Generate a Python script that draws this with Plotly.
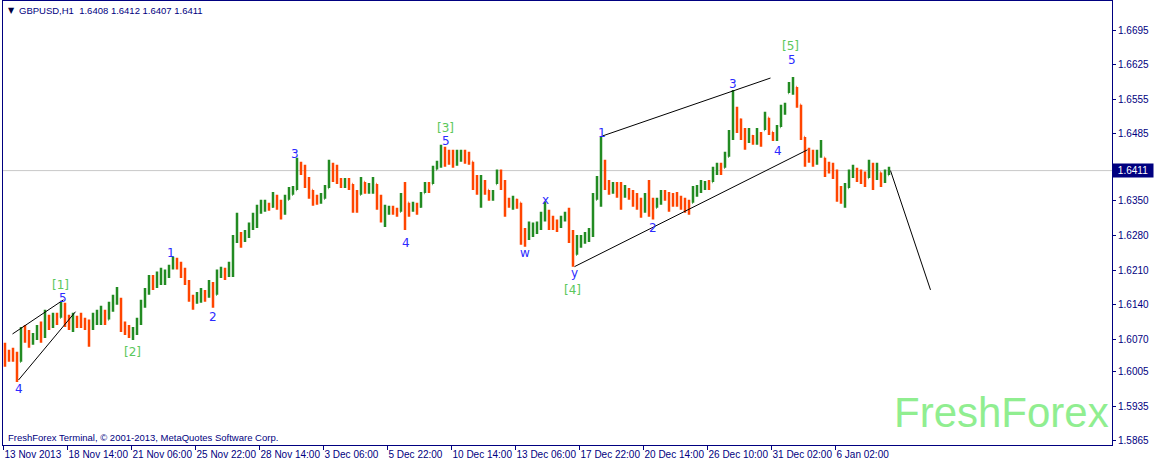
import plotly.graph_objects as go

# ---------------- data (4-hour blocks, prices in pips) ----------------
BAR_HOURS = 4
high_pips = [
    16063, 16049, 16053, 16045, 16095, 16099, 16089, 16083, 16099, 16106,
    16130, 16120, 16124, 16124, 16146, 16144, 16120, 16124, 16118, 16124,
    16114, 16110, 16124, 16130, 16138, 16130, 16146, 16160, 16176, 16154,
    16106, 16099, 16095, 16114, 16150, 16174, 16200, 16200, 16207, 16215,
    16211, 16221, 16237, 16235, 16227, 16215, 16190, 16160, 16166, 16174,
    16170, 16190, 16186, 16211, 16217, 16215, 16227, 16281, 16326, 16287,
    16291, 16306, 16326, 16342, 16352, 16352, 16346, 16368, 16362, 16352,
    16362, 16378, 16380, 16437, 16429, 16423, 16398, 16372, 16362, 16366,
    16382, 16433, 16427, 16423, 16396, 16396, 16396, 16384, 16372, 16398,
    16388, 16386, 16398, 16384, 16362, 16342, 16340, 16340, 16336, 16366,
    16388, 16346, 16348, 16346, 16368, 16388, 16388, 16421, 16431, 16463,
    16459, 16453, 16453, 16453, 16453, 16453, 16449, 16429, 16402, 16402,
    16392, 16372, 16372, 16413, 16413, 16392, 16356, 16360, 16354, 16346,
    16295, 16308, 16306, 16308, 16328, 16348, 16332, 16320, 16312, 16320,
    16328, 16336, 16291, 16281, 16281, 16287, 16295, 16366, 16400, 16479,
    16433, 16392, 16388, 16388, 16388, 16382, 16376, 16372, 16366, 16356,
    16366, 16392, 16356, 16356, 16372, 16372, 16368, 16366, 16368, 16360,
    16356, 16352, 16380, 16382, 16392, 16390, 16392, 16419, 16427, 16427,
    16449, 16493, 16574, 16540, 16516, 16497, 16497, 16483, 16497, 16489,
    16530, 16518, 16489, 16503, 16544, 16548, 16590, 16600, 16580, 16544,
    16479, 16457, 16453, 16453, 16473, 16437, 16429, 16427, 16413, 16380,
    16386, 16413, 16423, 16417, 16413, 16409, 16433, 16427, 16427, 16407,
    16413, 16419,
]
low_pips = [
    16015, 16025, 16025, 15984, 16025, 16063, 16053, 16059, 16069, 16063,
    16073, 16089, 16093, 16099, 16114, 16095, 16089, 16085, 16093, 16093,
    16089, 16055, 16089, 16099, 16099, 16099, 16110, 16126, 16140, 16085,
    16079, 16073, 16069, 16079, 16099, 16134, 16160, 16170, 16174, 16180,
    16180, 16194, 16211, 16211, 16194, 16180, 16146, 16130, 16142, 16144,
    16146, 16154, 16134, 16160, 16194, 16190, 16196, 16196, 16265, 16255,
    16267, 16275, 16291, 16295, 16324, 16328, 16330, 16336, 16332, 16312,
    16322, 16352, 16362, 16372, 16402, 16376, 16354, 16340, 16342, 16344,
    16354, 16376, 16388, 16384, 16376, 16376, 16372, 16326, 16326, 16362,
    16364, 16364, 16364, 16332, 16306, 16297, 16322, 16322, 16318, 16328,
    16291, 16318, 16328, 16322, 16336, 16366, 16366, 16384, 16413, 16417,
    16419, 16423, 16417, 16421, 16429, 16425, 16423, 16372, 16362, 16336,
    16362, 16350, 16350, 16384, 16372, 16318, 16336, 16332, 16334, 16261,
    16257, 16271, 16277, 16283, 16291, 16308, 16291, 16291, 16287, 16295,
    16308, 16265, 16217, 16241, 16255, 16263, 16267, 16277, 16352, 16338,
    16372, 16362, 16364, 16356, 16332, 16356, 16352, 16338, 16332, 16316,
    16326, 16318, 16312, 16336, 16342, 16350, 16328, 16338, 16338, 16332,
    16326, 16322, 16346, 16358, 16366, 16372, 16372, 16388, 16402, 16402,
    16417, 16439, 16473, 16487, 16473, 16453, 16467, 16463, 16463, 16459,
    16493, 16483, 16471, 16471, 16499, 16524, 16568, 16564, 16538, 16473,
    16419, 16427, 16419, 16423, 16437, 16398, 16405, 16394, 16348, 16344,
    16336, 16376, 16396, 16388, 16384, 16378, 16396, 16372, 16392, 16378,
    16386, 16402,
]
close_pips = [
    16039, 16033, 16029, 16019, 16079, 16069, 16065, 16075, 16089, 16079,
    16114, 16106, 16114, 16110, 16134, 16110, 16106, 16110, 16106, 16104,
    16099, 16093, 16114, 16114, 16120, 16110, 16140, 16150, 16150, 16099,
    16093, 16083, 16085, 16106, 16140, 16166, 16190, 16186, 16190, 16194,
    16200, 16215, 16227, 16221, 16207, 16186, 16154, 16150, 16160, 16164,
    16160, 16170, 16160, 16200, 16207, 16200, 16211, 16271, 16281, 16271,
    16281, 16295, 16312, 16332, 16336, 16342, 16338, 16358, 16342, 16328,
    16342, 16362, 16372, 16423, 16417, 16392, 16372, 16354, 16352, 16354,
    16372, 16413, 16409, 16392, 16386, 16388, 16384, 16362, 16352, 16388,
    16376, 16380, 16392, 16352, 16328, 16332, 16332, 16330, 16328, 16358,
    16352, 16332, 16340, 16338, 16360, 16382, 16376, 16413, 16423, 16453,
    16443, 16437, 16433, 16441, 16443, 16439, 16433, 16392, 16376, 16382,
    16372, 16358, 16362, 16402, 16382, 16352, 16346, 16352, 16346, 16281,
    16275, 16287, 16291, 16295, 16322, 16322, 16308, 16301, 16301, 16312,
    16322, 16281, 16241, 16271, 16271, 16277, 16287, 16352, 16382, 16402,
    16388, 16376, 16380, 16372, 16362, 16372, 16362, 16352, 16346, 16342,
    16352, 16342, 16336, 16346, 16362, 16360, 16352, 16352, 16348, 16346,
    16342, 16342, 16372, 16372, 16378, 16382, 16380, 16409, 16417, 16409,
    16439, 16477, 16534, 16514, 16493, 16473, 16481, 16473, 16485, 16479,
    16518, 16493, 16481, 16497, 16534, 16540, 16578, 16584, 16550, 16493,
    16443, 16443, 16437, 16443, 16453, 16423, 16417, 16409, 16362, 16354,
    16372, 16401, 16413, 16402, 16396, 16392, 16417, 16402, 16413, 16392,
    16402, 16411,
]
first_open_pips = 16050

x_tick_labels = ["13 Nov 2013", "18 Nov 14:00", "21 Nov 06:00", "25 Nov 22:00",
                 "28 Nov 14:00", "3 Dec 06:00", "5 Dec 22:00", "10 Dec 14:00",
                 "13 Dec 06:00", "17 Dec 22:00", "20 Dec 14:00", "26 Dec 10:00",
                 "31 Dec 02:00", "6 Jan 02:00"]
x_tick_every = 64  # hourly bars between time labels
y_tick_labels = ["1.6695", "1.6625", "1.6555", "1.6485", "1.6350", "1.6280",
                 "1.6210", "1.6140", "1.6070", "1.6005", "1.5935", "1.5865"]
last_price = 1.6411
header_text = "GBPUSD,H1  1.6408 1.6412 1.6407 1.6411"

# trend / channel lines: (hour index, price)
trend_lines = [
    ([9, 60], [1.6081, 1.6150]),
    ([15, 72], [1.5988, 1.6126]),
    ([599, 767], [1.6481, 1.6598]),
    ([571, 804], [1.6217, 1.6453]),
    ([887, 927], [1.6411, 1.6170]),
]

# wave labels
wave_text = ["[1]", "5", "4", "[2]", "1", "2", "3", "4", "[3]", "5", "w", "x",
             "y", "[4]", "1", "2", "3", "4", "[5]", "5"]
wave_hour = [57, 59, 15, 129, 167, 209, 291, 402, 442, 442, 521, 542,
             571, 569, 598, 649, 729, 774, 787, 788]
wave_price = [1.6180, 1.6154, 1.5970, 1.6045, 1.6245, 1.6116, 1.6445, 1.6265,
              1.6497, 1.6471, 1.6245, 1.6352, 1.6205, 1.6170, 1.6487, 1.6295,
              1.6586, 1.6451, 1.6663, 1.6635]

# ---------------- figure ----------------
NAVY = "#000080"
UP = "#228B22"
DOWN = "#FF4500"
GREEN_LBL = "#5CC85C"
BLUE_LBL = "#2B2BFF"
FONT = "Liberation Sans, sans-serif"

highs = [v / 10000 for v in high_pips]
lows = [v / 10000 for v in low_pips]
closes = [v / 10000 for v in close_pips]
opens = []
prev = first_open_pips / 10000
for h, l, c in zip(highs, lows, closes):
    opens.append(min(max(prev, l), h))
    prev = c
xs = [BAR_HOURS * k + (BAR_HOURS - 1) / 2 for k in range(len(closes))]

fig = go.Figure()
fig.add_trace(go.Ohlc(
    x=xs, open=opens, high=highs, low=lows, close=closes,
    increasing=dict(line=dict(color=UP, width=2.5)),
    decreasing=dict(line=dict(color=DOWN, width=2.5)),
    tickwidth=0.15, hoverinfo="skip", showlegend=False,
))

# current price line
fig.add_hline(y=last_price, line=dict(color="#C8C8C8", width=1), layer="below")

for lx, ly in trend_lines:
    fig.add_trace(go.Scatter(x=lx, y=ly, mode="lines",
                             line=dict(color="black", width=1),
                             hoverinfo="skip", showlegend=False))

for t, hx, py in zip(wave_text, wave_hour, wave_price):
    col = GREEN_LBL if t.startswith("[") else BLUE_LBL
    fig.add_annotation(x=hx, y=py, text=t, showarrow=False,
                       font=dict(family="DejaVu Sans", size=12, color=col))

W, H = 1154, 463
ML, MR, MT, MB = 3, 42, 1, 18
pw = W - ML - MR
ph = H - MT - MB


def px_to_paper_x(px):
    return (px - ML) / pw


def px_to_paper_y(py):
    return 1 - (py - MT) / ph


# header
fig.add_annotation(xref="paper", yref="paper", x=px_to_paper_x(6), y=px_to_paper_y(10),
                   text="▼", showarrow=False, xanchor="left", yanchor="middle",
                   font=dict(family="DejaVu Sans", size=8, color="#000040"))
fig.add_annotation(xref="paper", yref="paper", x=px_to_paper_x(17), y=px_to_paper_y(10),
                   text=header_text, showarrow=False, xanchor="left", yanchor="middle",
                   font=dict(family=FONT, size=9.5, color=NAVY))
# copyright
fig.add_annotation(xref="paper", yref="paper", x=px_to_paper_x(6), y=px_to_paper_y(437),
                   text="FreshForex Terminal, © 2001-2013, MetaQuotes Software Corp.",
                   showarrow=False, xanchor="left", yanchor="middle",
                   font=dict(family=FONT, size=9.5, color=NAVY))
# watermark
fig.add_annotation(xref="paper", yref="paper", x=px_to_paper_x(1111), y=px_to_paper_y(412),
                   text="FreshForex", showarrow=False, xanchor="right", yanchor="middle",
                   font=dict(family="Liberation Sans", size=42, color="#90EE90"))
# current price label on axis
fig.add_annotation(xref="paper", yref="y", x=1, y=last_price, text="1.6411",
                   showarrow=False, xanchor="left", yanchor="middle", xshift=0,
                   bgcolor=NAVY, borderpad=1, width=38,
                   font=dict(family=FONT, size=10, color="white"))

fig.update_layout(
    width=W, height=H,
    margin=dict(l=ML, r=MR, t=MT, b=MB, autoexpand=False),
    paper_bgcolor="white", plot_bgcolor="white",
    showlegend=False,
    xaxis=dict(
        range=[-0.5, pw - 0.5],
        rangeslider=dict(visible=False),
        automargin=False,
        showgrid=False, zeroline=False,
        showline=True, linecolor=NAVY, linewidth=1, mirror=True,
        tickmode="array",
        tickvals=[i * x_tick_every for i in range(len(x_tick_labels))],
        ticktext=x_tick_labels,
        tickangle=0,
        ticks="outside", ticklen=4, tickcolor=NAVY,
        ticklabelposition="outside right",
        tickfont=dict(family=FONT, size=10, color=NAVY),
    ),
    yaxis=dict(
        side="right",
        range=[1.58567, 1.67536],
        automargin=False,
        showgrid=False, zeroline=False,
        showline=True, linecolor=NAVY, linewidth=1, mirror=True,
        tickmode="array",
        tickvals=[float(v) for v in y_tick_labels],
        ticktext=y_tick_labels,
        ticks="outside", ticklen=3, tickcolor=NAVY,
        tickfont=dict(family=FONT, size=10, color=NAVY),
    ),
)

fig.write_html("out.html", config={"displayModeBar": False},
               post_script="document.body.style.margin='0';document.body.style.padding='0';")
